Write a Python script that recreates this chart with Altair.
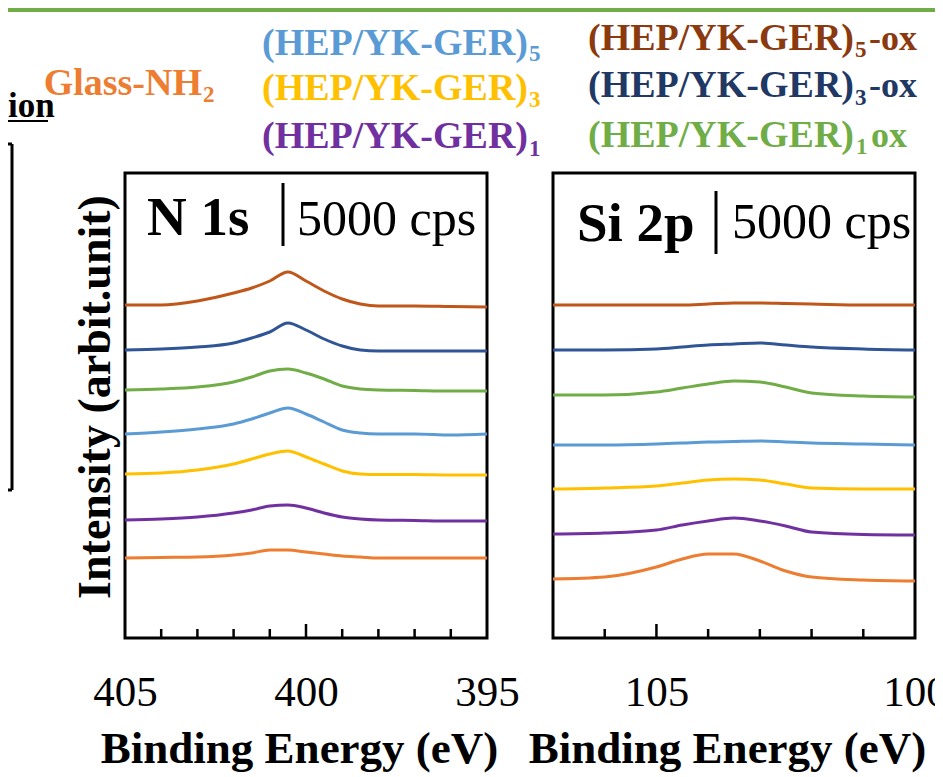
import altair as alt
import pandas as pd

SERIF = "Liberation Serif"

# ---------------- data (arbitrary intensity units, 63 units = 5000 cps) ----------
SAMPLES = ["Glass-NH2", "(HEP/YK-GER)1", "(HEP/YK-GER)3", "(HEP/YK-GER)5",
           "(HEP/YK-GER)1ox", "(HEP/YK-GER)3-ox", "(HEP/YK-GER)5-ox"]
LINE_COLORS = ["#ED7D31", "#7030A0", "#FFC000", "#5B9BD5", "#70AD47", "#2F5597", "#C0561A"]

N1S_ENERGY = [405, 404, 403, 402, 401.5, 401, 400.5, 400, 399.5, 399, 398.5, 398, 397, 396, 395]
N1S_GLASS = [80, 80.5, 81, 83, 85, 88, 88, 86, 84, 82, 81, 80, 80, 80, 80]
N1S_L1 = [118, 119, 121, 125, 128, 132, 133, 130, 125, 121, 119, 118, 117.5, 117, 117]
N1S_L3 = [164, 165, 168, 174, 179, 184, 187, 181, 174, 167, 164, 163.5, 163.5, 163, 163]
N1S_L5 = [204, 206, 209, 214, 219, 225, 230, 224, 216, 208, 205, 204, 204, 203, 204]
N1S_L1OX = [248, 249, 251, 256, 261, 267, 269, 265, 259, 252, 249, 248, 247.5, 247, 247]
N1S_L3OX = [288, 289, 291, 295, 300, 306, 315, 308, 299, 292, 288, 287, 287, 287, 287]
N1S_L5OX = [333, 333, 337, 345, 350, 357, 366, 357, 347, 339, 334, 332, 332, 331.5, 331]

SI2P_ENERGY = [107, 106, 105, 104.5, 104, 103.5, 103, 102.5, 102, 101, 100]
SI2P_GLASS = [59, 61, 71, 79, 84, 84, 77, 67, 61, 58, 57]
SI2P_L1 = [104, 105, 108, 113, 117, 120, 117, 112, 106, 103.5, 103]
SI2P_L3 = [149, 150, 152, 155, 158, 159, 158, 154, 150, 149, 149]
SI2P_L5 = [193, 193, 194, 195, 196, 196.5, 197, 196, 195, 194, 193]
SI2P_L1OX = [243, 243, 246, 250, 254, 257, 256, 251, 245, 242, 241]
SI2P_L3OX = [288, 288, 289, 291, 293, 294, 295, 293, 291, 289, 288]
SI2P_L5OX = [333, 333, 333, 333, 334, 335, 335, 334.5, 334, 333, 333]

N1S_LABELS = [405, 400, 395]
N1S_MINOR = [404, 403, 402, 401, 399, 398, 397, 396]
N1S_MAJOR = [400]
SI2P_LABELS = [105, 100]
SI2P_MINOR = [106, 104, 103, 102, 101]
SI2P_MAJOR = [105]

SCALE_BAR = 63  # 5000 cps in intensity units


def long_df(energy, series):
    rows = []
    for name, vals in zip(SAMPLES, series):
        for e, v in zip(energy, vals):
            rows.append({"energy": e, "intensity": v, "sample": name})
    return pd.DataFrame(rows)


N1S_DF = long_df(N1S_ENERGY, [N1S_GLASS, N1S_L1, N1S_L3, N1S_L5, N1S_L1OX, N1S_L3OX, N1S_L5OX])
SI2P_DF = long_df(SI2P_ENERGY, [SI2P_GLASS, SI2P_L1, SI2P_L3, SI2P_L5, SI2P_L1OX, SI2P_L3OX, SI2P_L5OX])

W, H = 362, 465
ONE = pd.DataFrame({"k": [0]})
YSCALE = alt.Scale(domain=[0, H], nice=False, zero=False)


def label(text, x, y, size, color="black", weight="normal", align="left",
          baseline="alphabetic", angle=0):
    return alt.Chart(ONE).mark_text(
        text=text, font=SERIF, fontSize=size, fontWeight=weight, color=color,
        align=align, baseline=baseline, angle=angle
    ).encode(x=alt.value(x), y=alt.value(y))


def hrule(x1, x2, y, width=2, color="black"):
    return alt.Chart(ONE).mark_rule(color=color, strokeWidth=width).encode(
        x=alt.value(x1), x2=alt.value(x2), y=alt.value(y))


def vrule(x, y1, y2, width=2, color="black"):
    return alt.Chart(ONE).mark_rule(color=color, strokeWidth=width).encode(
        x=alt.value(x), y=alt.value(y1), y2=alt.value(y2))


def panel(df, domain, labels, minor, major, name, name_x, name_y, bar_x, bar_lo,
          cps_x, cps_y, extra):
    xenc = alt.X(
        "energy:Q",
        scale=alt.Scale(domain=domain, reverse=True, nice=False, zero=False),
        axis=alt.Axis(values=labels, format="d", ticks=False, domain=False, grid=False,
                      labelFlush=False, labelOverlap=False, labelBound=False,
                      labelFont=SERIF, labelFontSize=43, labelColor="black",
                      labelBaseline="alphabetic", labelPadding=67,
                      title="Binding Energy (eV)", titleFont=SERIF, titleFontSize=45,
                      titleFontWeight="bold", titleColor="black",
                      titleX=174, titleY=124, titleBaseline="alphabetic",
                      titleAlign="center"),
    )
    yenc = alt.Y("intensity:Q", scale=YSCALE, axis=None)
    lines = alt.Chart(df).mark_line(strokeWidth=3, interpolate="monotone").encode(
        x=xenc, y=yenc,
        color=alt.Color("sample:N", scale=alt.Scale(domain=SAMPLES, range=LINE_COLORS),
                        legend=None),
        order=alt.Order("energy:Q"),
    )
    minor_ticks = alt.Chart(pd.DataFrame({"energy": minor})).mark_rule(
        color="black", strokeWidth=2.5).encode(x=xenc, y=alt.value(H - 9), y2=alt.value(H))
    major_ticks = alt.Chart(pd.DataFrame({"energy": major})).mark_rule(
        color="black", strokeWidth=2.5).encode(x=xenc, y=alt.value(H - 14), y2=alt.value(H))
    bar = alt.Chart(ONE).mark_rule(color="black", strokeWidth=3).encode(
        x=alt.value(bar_x), y=alt.Y(datum=bar_lo, scale=YSCALE),
        y2=alt.datum(bar_lo + SCALE_BAR))
    texts = [
        label(name, name_x, name_y, 55, weight="bold"),
        label("5000 cps", cps_x, cps_y, 50),
    ]
    layers = [lines, minor_ticks, major_ticks, bar] + texts + extra
    return alt.layer(*layers).properties(width=W, height=H)


# ---------- annotations around the first panel (positions relative to its origin) ----
SUB = 23
legend_layers = [
    # green strip at the top, remnants of neighbouring figure on the left
    alt.Chart(ONE).mark_rect(color="#70AD47").encode(
        x=alt.value(-117), x2=alt.value(810), y=alt.value(-165), y2=alt.value(-161)),
    label("ion", -117, -56, 35, weight="bold"),
    hrule(-117, -77, -52, 2),
    vrule(-113, -29, 317, 3),
    hrule(-117, -113, -29, 3),
    hrule(-117, -113, 317, 3),
    # y title
    label("Intensity (arbit.unit)", -29, 224, 46, weight="bold", align="center",
          baseline="middle", angle=270),
    # sample names
    label("Glass-NH", 77, -78, 38, color="#ED7D31", weight="bold", align="right"),
    label("2", 78, -71, SUB, color="#ED7D31", weight="bold"),
    label("(HEP/YK-GER)", 403, -118, 38, color="#5B9BD5", weight="bold", align="right"),
    label("5", 404, -112, SUB, color="#5B9BD5", weight="bold"),
    label("(HEP/YK-GER)", 403, -73, 38, color="#FFC000", weight="bold", align="right"),
    label("3", 404, -66, SUB, color="#FFC000", weight="bold"),
    label("(HEP/YK-GER)", 403, -25, 38, color="#7030A0", weight="bold", align="right"),
    label("1", 404, -17, SUB, color="#7030A0", weight="bold"),
    label("(HEP/YK-GER)", 729, -123, 38, color="#8B3A10", weight="bold", align="right"),
    label("5", 730, -116, SUB, color="#8B3A10", weight="bold"),
    label("-ox", 744, -123, 36, color="#8B3A10", weight="bold"),
    label("(HEP/YK-GER)", 729, -76, 38, color="#1F3864", weight="bold", align="right"),
    label("3", 730, -68, SUB, color="#1F3864", weight="bold"),
    label("-ox", 744, -76, 36, color="#1F3864", weight="bold"),
    label("(HEP/YK-GER)", 729, -26, 38, color="#70AD47", weight="bold", align="right"),
    label("1", 731, -19, SUB, color="#70AD47", weight="bold"),
    label("ox", 746, -26, 36, color="#70AD47", weight="bold"),
]

p1 = panel(N1S_DF, [395, 405], N1S_LABELS, N1S_MINOR, N1S_MAJOR,
           "N 1s", 22, 62, 158, 392, 172, 62, legend_layers)
p2 = panel(SI2P_DF, [100, 107], SI2P_LABELS, SI2P_MINOR, SI2P_MAJOR,
           "Si 2p", 24, 68, 163, 384, 179, 65, [])

chart = alt.hconcat(p1, p2, spacing=66).properties(
    bounds="flush",
    autosize=alt.AutoSizeParams(type="none"),
    padding={"left": 117, "top": 165, "right": 810, "bottom": 600},
).configure_view(stroke="black", strokeWidth=3)

chart.save("out.html", embed_options={"renderer": "svg", "actions": False})
